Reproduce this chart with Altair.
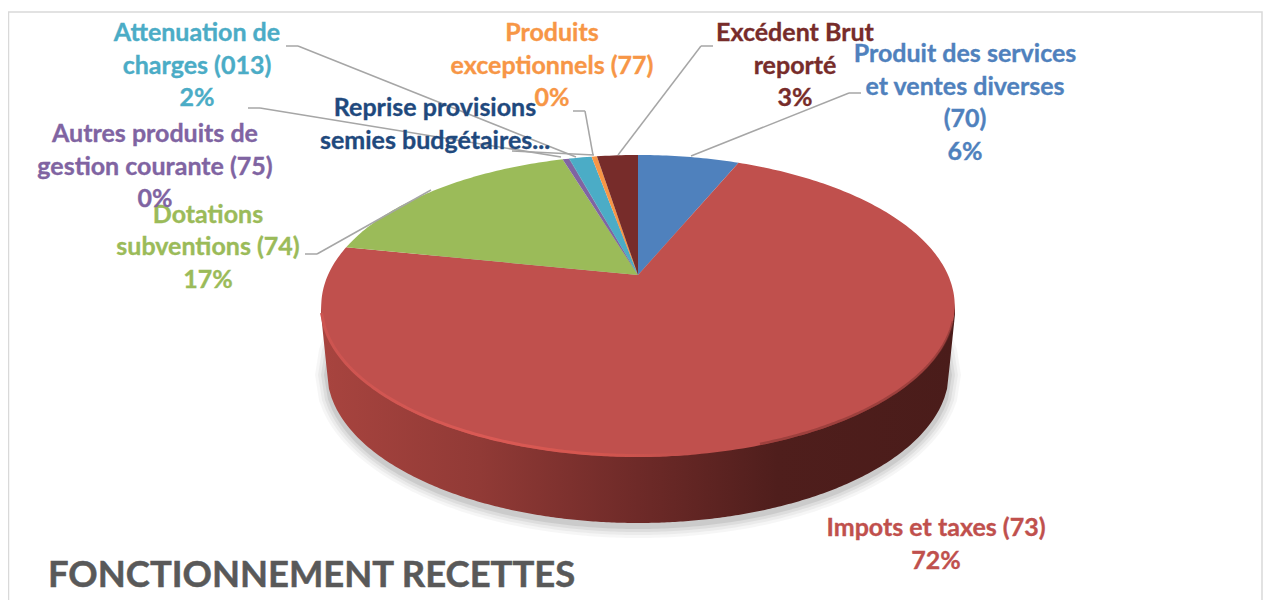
import math
import altair as alt
import pandas as pd

# ---- values
CATEGORIES = ["Produit des services et ventes diverses (70)", "Impots et taxes (73)", "Dotations subventions (74)",
              "Autres produits de gestion courante (75)", "Reprise provisions semies budgétaires...",
              "Attenuation de charges (013)", "Produits exceptionnels (77)", "Excédent Brut reporté"]
SHARES = [6.3, 71.9, 17.1, 0.4, 0.02, 1.4, 0.33, 2.55]
COLORS = ["#4F81BD", "#C0504D", "#9BBB59", "#8064A2", "#1F497D", "#4BACC6", "#F79646", "#772C2A"]

LABELS = [
    (["Produit des services", "et ventes diverses", "(70)", "6%"], 965, [54, 87, 119, 152], "#4F81BD"),
    (["Impots et taxes (73)", "72%"], 936, [528, 561], "#C0504D"),
    (["Dotations", "subventions (74)", "17%"], 208, [215, 247, 280], "#9BBB59"),
    (["Autres produits de", "gestion courante (75)", "0%"], 155, [134, 167, 199], "#8064A2"),
    (["Reprise provisions", "semies budgétaires..."], 435, [108, 141], "#1F497D"),
    (["Attenuation de", "charges (013)", "2%"], 197, [33, 66, 98], "#4BACC6"),
    (["Produits", "exceptionnels (77)", "0%"], 552, [33, 66, 98], "#F79646"),
    (["Excédent Brut", "reporté", "3%"], 795, [33, 66, 98], "#772C2A"),
]
LEADERS = [
    [(861, 93), (849, 93), (691, 156)],
    [(305, 254), (317, 254), (431, 190)],
    [(248, 108), (260, 108), (561, 157)],
    [(512, 151), (594, 155)],
    [(286, 46), (298, 46), (576, 157)],
    [(573, 111), (585, 111), (593, 155)],
    [(713, 46), (701, 46), (618, 155)],
]
TITLE = "FONCTIONNEMENT RECETTES"

# ---- perspective disc
CX, CY, A, B, W = 638, 275, 310, 144.6, -0.205
DEPTH = 66


def rim(share):
    t = 2 * math.pi * share / 100
    u, v = math.sin(t), math.cos(t)
    d = 1 - W * v
    return CX + A * u / d, CY - B * v / d


rows = []
start = 0.0
for name, share in zip(CATEGORIES, SHARES):
    pts = [(CX, CY)]
    n = max(2, int(share * 4))
    pts += [rim(start + share * k / n) for k in range(n + 1)]
    rows += [{"slice": name, "i": i, "x": x, "y": y} for i, (x, y) in enumerate(pts)]
    start += share
wedges = pd.DataFrame(rows)

EX0, EX1, EMY, ERX, ERY = 321, 955, 306, 317, 151
BRX = ERX - 6


def front_y(x, cy, rx, ry):
    k = max(0.0, 1 - ((x - CX) / rx) ** 2)
    return cy + ry * math.sqrt(k)


def wall_bottom(x):
    d = abs(x - CX)
    if d <= BRX:
        return front_y(x, EMY + DEPTH, BRX, ERY)
    return EMY + DEPTH - (EMY + DEPTH - (EMY + 8)) * (d - BRX) / (ERX - BRX)


side_rows = []
for k in range(241):
    x = EX0 + (EX1 - EX0) * k / 240
    side_rows.append({"x": x, "y": front_y(x, EMY, ERX, ERY) - 3, "y2": wall_bottom(x)})
side = pd.DataFrame(side_rows)

XS = alt.Scale(domain=[8, 1263], nice=False, zero=False)
YS = alt.Scale(domain=[600, 8], nice=False, zero=False)
X = alt.X("x:Q", scale=XS, axis=None)
Y = alt.Y("y:Q", scale=YS, axis=None)

layers = []

# frame
frame = pd.DataFrame({"x": [8.5], "x2": [1262.0], "y": [12.0], "y2": [700.0]})
layers.append(alt.Chart(frame).mark_rect(fill="white", stroke="#D9D9D9", strokeWidth=1.5, clip=True)
              .encode(x=X, x2="x2:Q", y=Y, y2="y2:Q"))

# soft shadow under the disc (stacked translucent ellipses)
for grow, op in [(12, 0.035), (9, 0.045), (6, 0.06), (3, 0.08)]:
    srx = BRX + grow
    scy = EMY + DEPTH + 3
    sry = ERY + grow
    sh_rows = []
    for k in range(161):
        x = CX - srx + 2 * srx * k / 160
        y2 = front_y(x, scy, srx, sry)
        sh_rows.append({"x": x, "y": 2 * scy - y2, "y2": y2})
    layers.append(alt.Chart(pd.DataFrame(sh_rows)).mark_area(color="#000000", opacity=op)
                  .encode(x=X, y=Y, y2="y2:Q"))

# side wall
wall_fill = alt.Gradient(gradient="linear", x1=0, x2=1, y1=0, y2=0, stops=[
    alt.GradientStop(offset=0.0, color="#A8443F"),
    alt.GradientStop(offset=0.25, color="#913A36"),
    alt.GradientStop(offset=0.5, color="#6E2A28"),
    alt.GradientStop(offset=0.72, color="#4F1E1C"),
    alt.GradientStop(offset=1.0, color="#4A1C1A"),
])
layers.append(alt.Chart(side).mark_area(fill=wall_fill, line=False).encode(x=X, y=Y, y2="y2:Q"))

# top face
color = alt.Color("slice:N", scale=alt.Scale(domain=CATEGORIES, range=COLORS), legend=None)
layers.append(alt.Chart(wedges).mark_line(filled=True, interpolate="linear-closed", strokeWidth=0.6)
              .encode(x=X, y=Y, color=color, order="i:Q", detail="slice:N"))

# highlight on the front-left rim
edge = pd.DataFrame([{"x": x, "y": front_y(x, EMY, ERX, ERY) - 1.5}
                     for x in [EX0 + 0.5 + k * (690 - EX0) / 120 for k in range(121)]])
edge_stroke = alt.Gradient(gradient="linear", x1=0, x2=1, y1=0, y2=0, stops=[
    alt.GradientStop(offset=0.0, color="#CC5450"),
    alt.GradientStop(offset=0.45, color="#DB5A55"),
    alt.GradientStop(offset=0.75, color="#D4564F"),
    alt.GradientStop(offset=1.0, color="#C0504D"),
])
layers.append(alt.Chart(edge).mark_line(stroke=edge_stroke, strokeWidth=3).encode(x=X, y=Y, order="x:Q"))

# darker soft edge on the right rim
edge_r = pd.DataFrame([{"x": x, "y": front_y(x, EMY, ERX, ERY) - 1.5}
                       for x in [760 + k * (953 - 760) / 80 for k in range(81)]])
layers.append(alt.Chart(edge_r).mark_line(stroke="#7A302D", strokeWidth=2.5, opacity=0.5)
              .encode(x=X, y=Y, order="x:Q"))

# leader lines
for path in LEADERS:
    for (x0, y0), (x1, y1) in zip(path, path[1:]):
        layers.append(alt.Chart(pd.DataFrame({"x": [x0], "y": [y0], "x2": [x1], "y2": [y1]}))
                      .mark_rule(color="#A6A6A6", strokeWidth=1.5)
                      .encode(x=X, y=Y, x2="x2:Q", y2="y2:Q"))

# labels
text_rows = []
for lines, tx, tys, col in LABELS:
    for line, ty in zip(lines, tys):
        text_rows.append({"t": line, "x": tx, "y": ty, "c": col})
text_df = pd.DataFrame(text_rows)
layers.append(alt.Chart(text_df).mark_text(font="Lato", fontWeight="bold", fontSize=25, align="center",
                                           baseline="middle", strokeWidth=0.35)
              .encode(x=X, y=Y, text="t:N", color=alt.Color("c:N", scale=None),
                      stroke=alt.Stroke("c:N", scale=None)))

layers.append(alt.Chart(pd.DataFrame({"x": [48], "y": [576], "t": [TITLE]}))
              .mark_text(font="Lato", fontWeight="bold", fontSize=36.4, align="left", baseline="middle",
                         color="#595959", stroke="#595959", strokeWidth=0.5)
              .encode(x=X, y=Y, text="t:N"))

chart = alt.layer(*layers).properties(width=1255, height=592, padding=0, autosize="none",
                                      background="white").configure_view(stroke=None)
chart.save("out.html", embed_options={"renderer": "svg", "actions": False})
